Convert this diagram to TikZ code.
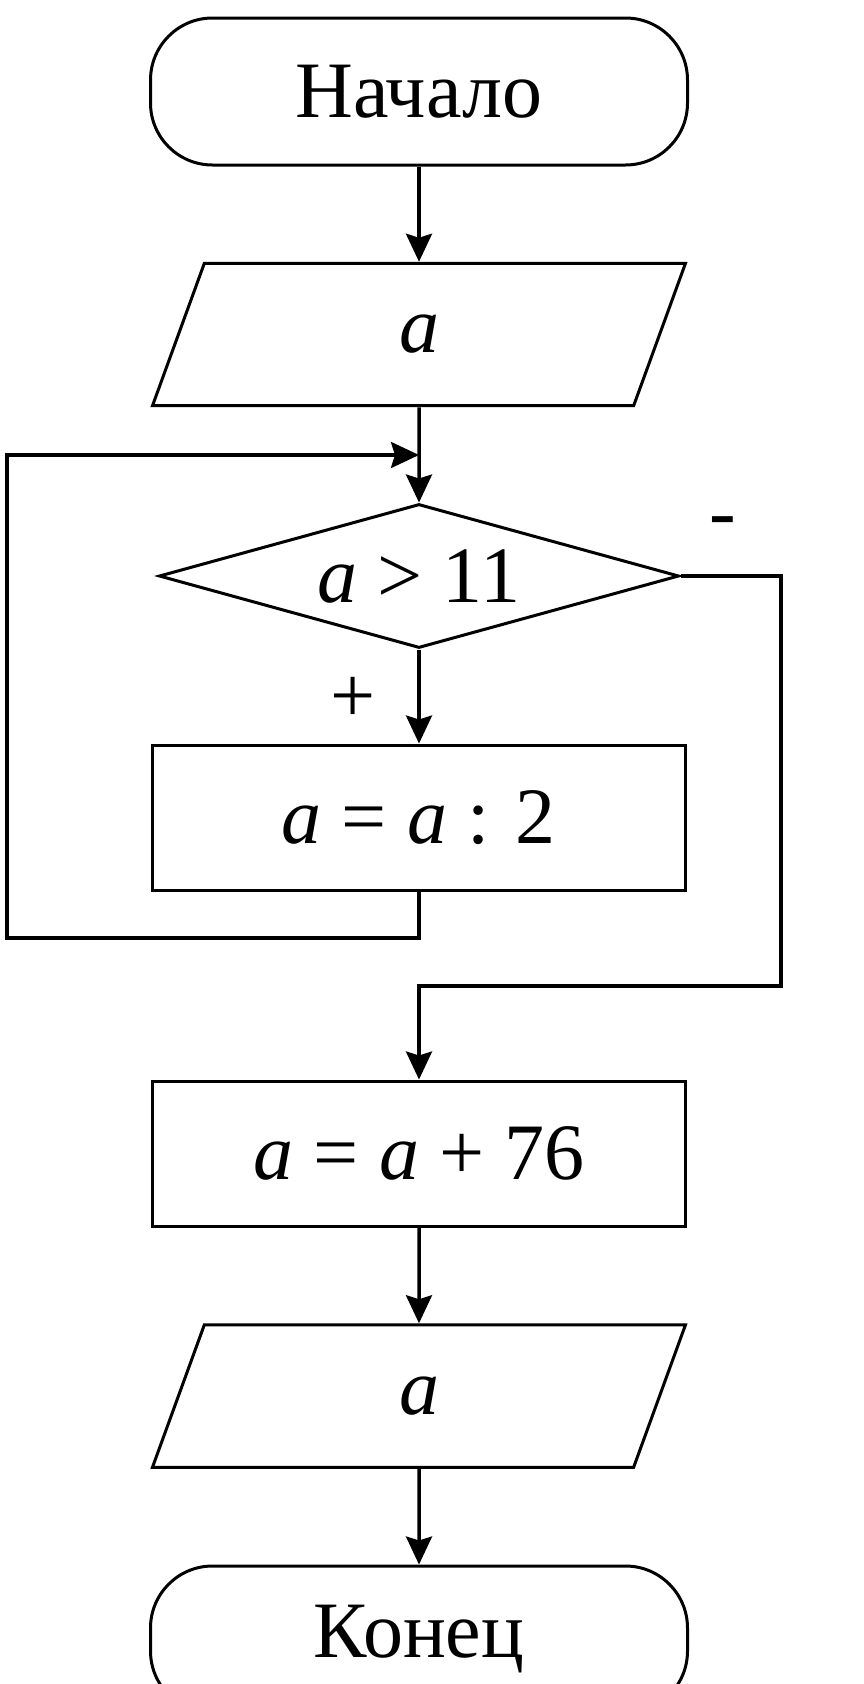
\documentclass[tikz,border=0pt]{standalone}
\usepackage{fontspec}
\setmainfont{Liberation Serif}
\usetikzlibrary{shapes.geometric,arrows.meta}

\begin{document}
\begin{tikzpicture}[x=1pt,y=-1pt,>={Stealth[length=28pt,width=26pt,inset=4pt]},
        every node/.style={font=\fontsize{80}{90}\selectfont},
        term/.style={draw,line width=3pt,rectangle,rounded corners=62pt,minimum width=537pt,minimum height=147pt},
        io/.style={draw,line width=3pt,trapezium,trapezium left angle=70,trapezium right angle=110,trapezium stretches body,inner ysep=52pt,minimum width=533pt},
        proc/.style={draw,line width=3pt,rectangle,minimum width=533pt,minimum height=145pt},
        cond/.style={draw,line width=3pt,diamond,aspect=3.6,inner sep=0pt,minimum width=520pt,minimum height=144pt},
        flow/.style={line width=3.5pt}]
        \useasboundingbox (0,0) rectangle (864,1684);
        \node[term] (start) at (419,91.5) {Начало};
        \node[io] (inp) at (419,334.5) {\textit{a}};
        \node[cond] (test) at (419,576) {\textit{a} > 11};
        \node[proc] (div) at (419,817.5) {\textit{a} = \textit{a} : 2};
        \node[proc] (add) at (419,1153.5) {\textit{a} = \textit{a} + 76};
        \node[io] (out) at (419,1396) {\textit{a}};
        \node[term] (stop) at (419,1639.5) {Конец};
        \node (yes) at (353,700) {+};
        \node (no) at (723,528) {-};
        \coordinate (join) at (419,455);
        \coordinate (lb) at (7,938);
        \coordinate (lt) at (7,455);
        \coordinate (nb) at (781,986);
        \draw[flow,->] (start) -- (inp);
        \draw[flow,->] (inp) -- (test);
        \draw[flow,->] (test) -- (div);
        \draw[flow,->] (div.south) |- (lb) -- (lt) -- (join);
        \draw[flow,->] (test.east) -| (nb) -| (add.north);
        \draw[flow,->] (add) -- (out);
        \draw[flow,->] (out) -- (stop);
    \end{tikzpicture}
\end{document}
